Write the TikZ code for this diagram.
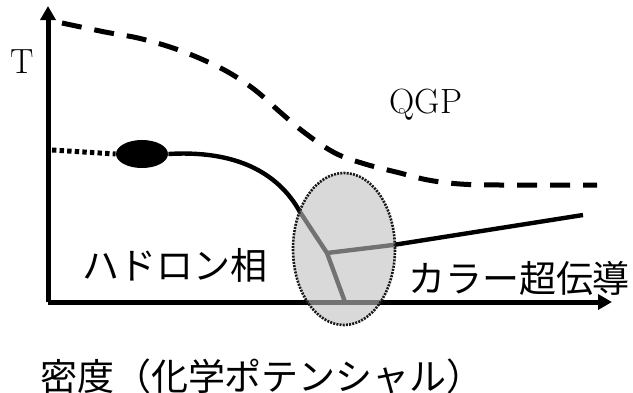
\documentclass[tikz,border=0pt]{standalone}
\usepackage{fontspec}
\newfontfamily\jpfont{Noto Sans CJK JP}
\usetikzlibrary{shapes, arrows.meta, positioning, calc}
\tikzset{
  axisline/.style={line width=2.5pt, -{Triangle[length=7pt, width=7.5pt]}},
  crossline/.style={line width=2.5pt, dash pattern=on 10pt off 6.5pt},
  firstline/.style={line width=2.2pt},
  cepline/.style={line width=2.5pt, dash pattern=on 2.2pt off 1.6pt},
  cepnode/.style={ellipse, fill=black, minimum width=26pt, minimum height=14pt, inner sep=0pt},
  mixnode/.style={ellipse, draw=black!90, line width=1.3pt, dash pattern=on 1pt off 0.6pt, fill=black!25, fill opacity=0.6, minimum width=51pt, minimum height=76pt, inner sep=0pt},
  latlabel/.style={font=\fontsize{17.5}{20}\selectfont},
  jplabel/.style={font=\jpfont\fontsize{18.5}{22}\selectfont, inner sep=0pt},
}
\begin{document}
\begin{tikzpicture}[x=0.5pt, y=-0.5pt]
  \useasboundingbox (0,0) rectangle (633,392);
  % axes
  \coordinate (o) at (48,302);
  \coordinate (ytip) at (48,6);
  \coordinate (xtip) at (612,302);
  \draw[axisline] (o) -- (ytip);
  \draw[axisline] (o) -- (xtip);
  \node[latlabel] (tlab) at (22,62) {T};
  % crossover
  \draw[crossline] plot[smooth, tension=0.6] coordinates {(62,23) (105,32) (138,38) (170,47) (199,58) (228,72) (255,90) (280,112) (305,133) (335,153) (365,164) (400,173) (428,180) (460,184) (500,185) (597,185)};
  \node[latlabel] (qgp) at (426,105) {QGP};
  % first order line and critical point
  \node[cepnode] (cp) at (142,154) {};
  \coordinate (yl) at (52,150);
  \draw[cepline] (yl) -- (cp.west);
  \coordinate (tp) at (300,212);
  \coordinate (jn) at (327,253);
  \coordinate (ax) at (345,302);
  \coordinate (ed) at (393,245);
  \coordinate (cs) at (583,215);
  \draw[firstline] (cp.east) .. controls (235,150) and (278,172) .. (tp);
  \draw[firstline] (tp) -- (jn) -- (ax);
  \draw[firstline] (jn) -- (ed) -- (cs);
  % crossover region
  \node[mixnode] (mix) at (344,249) {};
  \node[jplabel] (hadron) at (175,265) {ハドロン相};
  \node[jplabel] (csc) at (519,278) {カラー超伝導};
  \node[jplabel] (mu) at (262,376) {密度（化学ポテンシャル）};
\end{tikzpicture}
\end{document}
